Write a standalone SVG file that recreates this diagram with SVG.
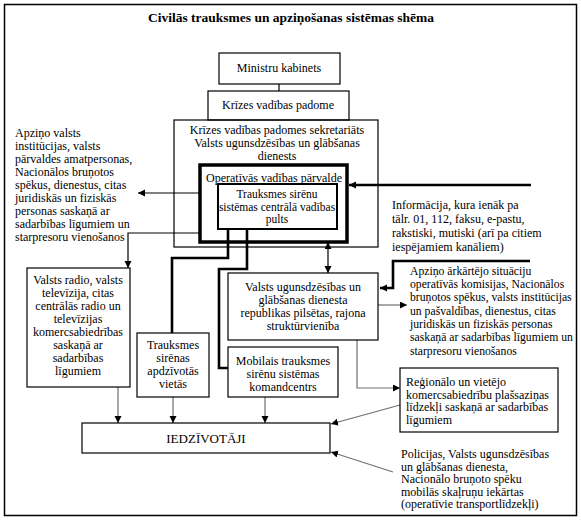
<svg xmlns="http://www.w3.org/2000/svg" width="581" height="520" viewBox="0 0 581 520" font-family="'Liberation Serif', 'Times New Roman', serif">
<style>
text{font-family:'Liberation Serif','Times New Roman',serif;font-size:12px;fill:#000}
.c{text-anchor:middle}
.box{fill:#fff;stroke:#000;stroke-width:1.2}
.ln{fill:none;stroke:#000;stroke-width:1.2}
.thk{fill:none;stroke:#000;stroke-width:2.6}
.gr{fill:none;stroke:#707070;stroke-width:1.2}
.sm{font-size:11.5px}
.rt{font-size:11.7px}
</style>
<defs>
<marker id="a" markerUnits="userSpaceOnUse" markerWidth="8" markerHeight="8" refX="7" refY="3.5" orient="auto-start-reverse"><path d="M0,0 L7,3.5 L0,7 z" fill="#000"/></marker>
<marker id="g" markerUnits="userSpaceOnUse" markerWidth="8" markerHeight="8" refX="7" refY="3.5" orient="auto"><path d="M0,0 L7,3.5 L0,7 z" fill="#000"/></marker>
</defs>
<rect x="4.5" y="4.5" width="572" height="511" fill="#fff" stroke="#000" stroke-width="1.5"/>
<text x="291" y="22" class="c" style="font-weight:bold;font-size:13.5px">Civilās trauksmes un apziņošanas sistēmas shēma</text>

<g id="connectors">
<line class="ln" x1="279" y1="84" x2="279" y2="91"/>
<line class="ln" x1="200" y1="193" x2="138" y2="193" marker-end="url(#a)"/>
<polyline class="ln" points="200,233 128,233 128,268" marker-end="url(#a)"/>
<polyline class="thk" points="228,229 228,258 172,258 172,333"/>
<polyline class="thk" points="247,229 247,269 219,269 219,368 228,368"/>
<line class="ln" x1="328" y1="242" x2="328" y2="273" marker-start="url(#a)" marker-end="url(#a)"/>
<line class="thk" x1="531" y1="185" x2="349" y2="185" marker-end="url(#a)"/>
<polyline class="thk" points="530,261 393,261 393,288 380,288" marker-end="url(#a)"/>
<line class="gr" x1="378" y1="305" x2="407" y2="305" marker-end="url(#g)"/>
<polyline class="gr" points="357,340 357,388 400,388" marker-end="url(#g)"/>
<line class="gr" x1="400" y1="405" x2="331" y2="424" marker-end="url(#g)"/>
<line class="gr" x1="393" y1="472" x2="331" y2="452" marker-end="url(#g)"/>
<line class="gr" x1="118" y1="387" x2="118" y2="423" marker-end="url(#g)"/>
<line class="gr" x1="173" y1="397" x2="173" y2="423" marker-end="url(#g)"/>
<line class="gr" x1="265" y1="397" x2="265" y2="423" marker-end="url(#g)"/>
</g>

<g id="ministru">
<rect class="box" x="219" y="53" width="121" height="31"/>
<text x="279" y="72" class="c">Ministru kabinets</text>
</g>
<g id="padome">
<rect class="box" x="208" y="91" width="141" height="29"/>
<text x="278" y="109" class="c">Krīzes vadības padome</text>
</g>
<g id="sekretariats">
<rect x="174" y="120" width="204" height="127" fill="none" stroke="#000" stroke-width="1.2"/>
<text x="277" y="134" class="c">Krīzes vadības padomes sekretariāts</text>
<text x="277" y="147" class="c">Valsts ugunsdzēsības un glābšanas</text>
<text x="277" y="160" class="c">dienests</text>
</g>
<g id="operativas">
<rect x="200" y="165" width="147" height="77" fill="none" stroke="#000" stroke-width="3.5"/>
<text x="274" y="182" class="c">Operatīvās vadības pārvalde</text>
</g>
<g id="pults">
<rect x="218" y="184" width="119" height="45" fill="#fff" stroke="#000" stroke-width="2"/>
<text x="277" y="198" class="c sm">Trauksmes sirēnu</text>
<text x="277" y="210.5" class="c sm">sistēmas centrālā vadības</text>
<text x="277" y="223" class="c sm">pults</text>
</g>
<g id="left-text">
<text x="15" y="137">Apziņo valsts</text>
<text x="15" y="150">institūcijas, valsts</text>
<text x="15" y="163">pārvaldes amatpersonas,</text>
<text x="15" y="176">Nacionālos bruņotos</text>
<text x="15" y="189">spēkus, dienestus, citas</text>
<text x="15" y="202">juridiskās un fiziskās</text>
<text x="15" y="215">personas saskaņā ar</text>
<text x="15" y="228">sadarbības līgumiem un</text>
<text x="15" y="241">starpresoru vienošanos</text>
</g>
<g id="info-text">
<text x="392" y="209">Informācija, kura ienāk pa</text>
<text x="392" y="223">tālr. 01, 112, faksu, e-pastu,</text>
<text x="392" y="237">rakstiski, mutiski (arī pa citiem</text>
<text x="392" y="251">iespējamiem kanāliem)</text>
</g>
<g id="radio">
<rect class="box" x="27" y="268" width="103" height="119"/>
<text x="78" y="284" class="c">Valsts radio, valsts</text>
<text x="78" y="297" class="c">televīzija, citas</text>
<text x="78" y="310" class="c">centrālās radio un</text>
<text x="78" y="323" class="c">televīzijas</text>
<text x="78" y="336" class="c">komercsabiedrības</text>
<text x="78" y="349" class="c">saskaņā ar</text>
<text x="78" y="362" class="c">sadarbības</text>
<text x="78" y="375" class="c">līgumiem</text>
</g>
<g id="sirenas">
<rect class="box" x="137" y="333" width="72" height="64"/>
<text x="173" y="349" class="c">Trauksmes</text>
<text x="173" y="362" class="c">sirēnas</text>
<text x="173" y="375" class="c">apdzīvotās</text>
<text x="173" y="388" class="c">vietās</text>
</g>
<g id="vugd">
<rect class="box" x="228" y="273" width="150" height="67"/>
<text x="303" y="291" class="c">Valsts ugunsdzēsības un</text>
<text x="303" y="304" class="c">glābšanas dienesta</text>
<text x="303" y="317" class="c">republikas pilsētas, rajona</text>
<text x="303" y="330" class="c">struktūrvienība</text>
</g>
<g id="mobilais">
<rect class="box" x="228" y="347" width="110" height="50"/>
<text x="283" y="365" class="c">Mobilais trauksmes</text>
<text x="283" y="378" class="c">sirēnu sistēmas</text>
<text x="283" y="391" class="c">komandcentrs</text>
</g>
<g id="right-text">
<text x="410" y="275" class="rt">Apziņo ārkārtējo situāciju</text>
<text x="410" y="288" class="rt">operatīvās komisijas, Nacionālos</text>
<text x="410" y="301" class="rt">bruņotos spēkus, valsts institūcijas</text>
<text x="410" y="315" class="rt">un pašvaldības, dienestus, citas</text>
<text x="410" y="328" class="rt">juridiskās un fiziskās personas</text>
<text x="410" y="341" class="rt">saskaņā ar sadarbības līgumiem un</text>
<text x="410" y="355" class="rt">starpresoru vienošanos</text>
</g>
<g id="regionalo">
<rect class="box" x="400" y="368" width="158" height="64"/>
<text x="406" y="386">Reģionālo un vietējo</text>
<text x="406" y="398.5">komercsabiedrību plašsaziņas</text>
<text x="406" y="411">līdzekļi saskaņā ar sadarbības</text>
<text x="406" y="423.5">līgumiem</text>
</g>
<g id="iedzivotaji">
<rect class="box" x="82" y="423" width="248" height="30"/>
<text x="206" y="443" class="c" style="font-size:13px">IEDZĪVOTĀJI</text>
</g>
<g id="policijas">
<text x="401" y="458">Policijas, Valsts ugunsdzēsības</text>
<text x="401" y="470.5">un glābšanas dienesta,</text>
<text x="401" y="483">Nacionālo bruņoto spēku</text>
<text x="401" y="495.5">mobilās skaļruņu iekārtas</text>
<text x="401" y="508">(operatīvie transportlīdzekļi)</text>
</g>
</svg>
